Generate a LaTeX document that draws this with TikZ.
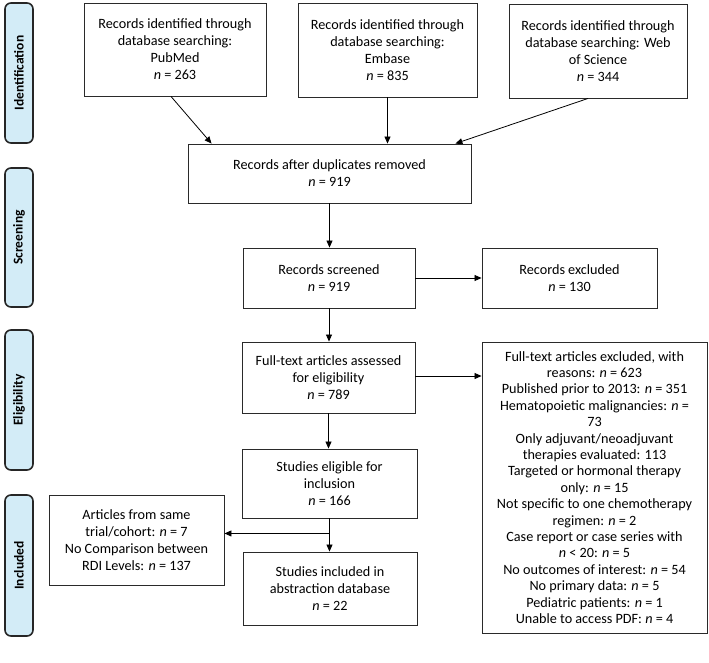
\documentclass[tikz,border=0pt]{standalone}
\usepackage{fontspec}
\setmainfont{Carlito}
\usetikzlibrary{arrows.meta,calc}
\definecolor{labfill}{HTML}{D3ECF7}
\definecolor{boxline}{HTML}{2A2A2A}
\begin{document}
\begin{tikzpicture}[x=1pt,y=-1pt,
  box/.style={draw=boxline,line width=0.9pt,align=center,inner sep=0pt,
    font=\fontsize{14.2}{17}\selectfont},
  phase/.style={draw=black!85,line width=1.6pt,fill=labfill,rounded corners=6pt,
    inner sep=0pt,minimum width=140pt,minimum height=28pt,rotate=90,
    font=\fontsize{13.5}{15}\selectfont\bfseries},
  arr/.style={line width=0.8pt,-{Triangle[length=7pt,width=6pt]}}]
\useasboundingbox (0,0) rectangle (709,662);
% phase labels
\node[phase] (ident) at (19,73) {Identification};
\node[phase,minimum width=139pt] (screen) at (19,237.5) {Screening};
\node[phase] (elig) at (19,400) {Eligibility};
\node[phase,minimum width=141pt] (incl) at (19,565.5) {Included};
% boxes
\node[box,minimum width=182pt,minimum height=93pt] (pub) at (175,49.5)
  {Records identified through\\database searching:\\PubMed\\\textit{n} = 263};
\node[box,minimum width=179pt,minimum height=94pt] (emb) at (387.5,50)
  {Records identified through\\database searching:\\Embase\\\textit{n} = 835};
\node[box,minimum width=178pt,minimum height=94pt] (wos) at (598,51)
  {Records identified through\\database searching: Web\\of Science\\\textit{n} = 344};
\node[box,minimum width=283pt,minimum height=59pt] (dup) at (329.5,173.5)
  {Records after duplicates removed\\\textit{n} = 919};
\node[box,minimum width=172pt,minimum height=60pt] (scr) at (329,278)
  {Records screened\\\textit{n} = 919};
\node[box,minimum width=175pt,minimum height=60pt] (exc) at (569.5,278)
  {Records excluded\\\textit{n} = 130};
\node[box,minimum width=173pt,minimum height=71pt] (fta) at (328.5,377.5)
  {Full-text articles assessed\\for eligibility\\\textit{n} = 789};
\node[box,minimum width=225pt,minimum height=291pt,font=\fontsize{14.2}{16.4}\selectfont] (fte) at (594.5,487.5)
  {Full-text articles excluded, with\\reasons: \textit{n} = 623\\
   Published prior to 2013: \textit{n} = 351\\
   Hematopoietic malignancies: \textit{n} =\\73\\
   Only adjuvant/neoadjuvant\\therapies evaluated: 113\\
   Targeted or hormonal therapy\\only: \textit{n} = 15\\
   Not specific to one chemotherapy\\regimen: \textit{n} = 2\\
   Case report or case series with\\\textit{n} < 20: \textit{n} = 5\\
   No outcomes of interest: \textit{n} = 54\\
   No primary data: \textit{n} = 5\\
   Pediatric patients: \textit{n} = 1\\
   Unable to access PDF: \textit{n} = 4};
\node[box,minimum width=175pt,minimum height=69pt] (sel) at (329.5,483.5)
  {Studies eligible for\\inclusion\\\textit{n} = 166};
\node[box,minimum width=174pt,minimum height=73pt] (sinc) at (330,588.5)
  {Studies included in\\abstraction database\\\textit{n} = 22};
\node[box,minimum width=175pt,minimum height=90pt] (art) at (136.5,540)
  {Articles from same\\trial/cohort: \textit{n} = 7\\No Comparison between\\RDI Levels: \textit{n} = 137};
% connectors
\draw[arr] ($(pub.south)+(-4,0)$) -- ($(dup.north west)+(24,0)$);
\draw[arr] (emb.south) -- (emb.south |- dup.north);
\draw[arr] ($(wos.south)+(-10,0)$) -- ($(dup.north east)+(-16,0)$);
\draw[arr] (dup.south) -- (dup.south |- scr.north);
\draw[arr] (scr.east) -- (scr.east -| exc.west);
\draw[arr] (scr.south) -- (scr.south |- fta.north);
\draw[arr] ($(fta.east)+(0,-1.5)$) -- ($(fta.east -| fte.west)+(0,-1.5)$);
\draw[arr] (fta.south) -- (fta.south |- sel.north);
\draw[arr] (sel.south) -- (sel.south |- sinc.north);
\coordinate (br) at ($(sel.south)+(0,15)$);
\draw[arr] (br) -- (br -| art.east);
\end{tikzpicture}
\end{document}
